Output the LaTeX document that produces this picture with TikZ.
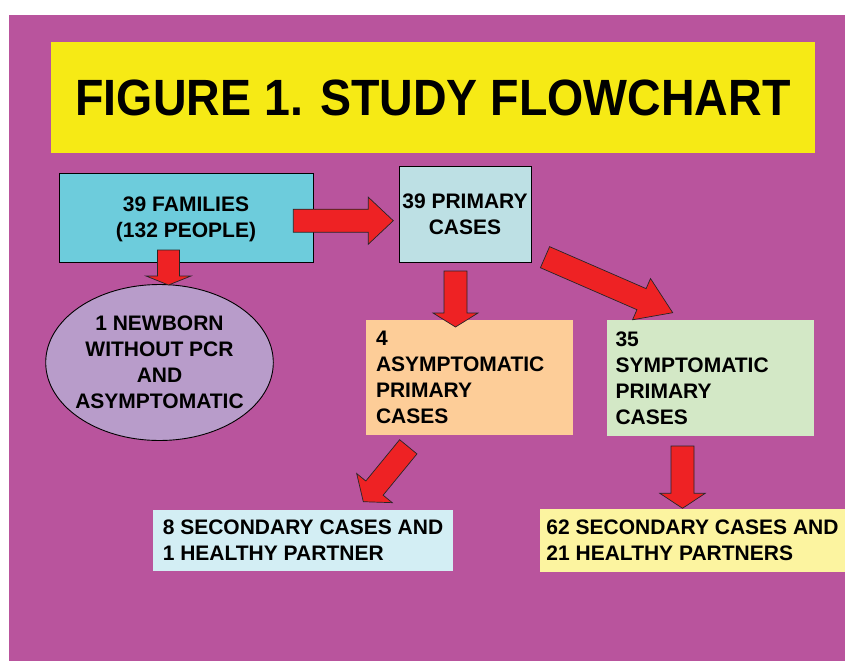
\documentclass[tikz,border=0pt]{standalone}
\usepackage{fontspec}
\setmainfont{Liberation Sans}
\usetikzlibrary{calc,shapes.geometric}
\definecolor{bgmag}{HTML}{B9549D}
\definecolor{titleyellow}{HTML}{F6EA15}
\definecolor{famblue}{HTML}{6DCCDC}
\definecolor{primblue}{HTML}{BDE0E4}
\definecolor{newbornlilac}{HTML}{B89CCA}
\definecolor{asymorange}{HTML}{FDCD98}
\definecolor{symgreen}{HTML}{D3E8C6}
\definecolor{seconeblue}{HTML}{D3EEF4}
\definecolor{sectwoyellow}{HTML}{FCF4A0}
\definecolor{arrowred}{HTML}{EE2224}
\newcommand\blockarrow[5]{%
  \coordinate (bh) at ($(#2)!#3!(#1)$);
  \draw[blockarr] ($(#1)!#4!90:(#2)$) -- ($(bh)!#4!90:(#2)$) -- ($(bh)!#5!90:(#2)$)
    -- (#2) -- ($(bh)!#5!-90:(#2)$) -- ($(bh)!#4!-90:(#2)$) -- ($(#1)!#4!-90:(#2)$) -- cycle;
}
\begin{document}
\begin{tikzpicture}[x=1pt,y=-1pt,
  txt/.style={font={\bfseries\fontsize{21}{26}\selectfont}},
  flat/.style={text depth=0pt},
  boxed/.style={txt, flat, rectangle, inner sep=0pt, draw=black, line width=0.9pt},
  plain/.style={txt, rectangle, inner sep=0pt},
  blockarr/.style={fill=arrowred, draw=black!85, line width=0.7pt, line join=miter}
]
\useasboundingbox (0,0) rectangle (845,661);
\fill[bgmag] (9,15) rectangle (845,661);

\node[fill=titleyellow, inner sep=0pt, text depth=0pt, minimum width=764pt, minimum height=111pt,
  font={\bfseries\fontsize{51}{60}\selectfont}] (title) at (433,97.5)
  {\scalebox{0.912}[1]{FIGURE 1. STUDY FLOWCHART}};

\node[boxed, fill=famblue, minimum width=254pt, minimum height=89pt, align=center] (fam) at (186,217.5)
  {39 FAMILIES\\(132 PEOPLE)};
\node[boxed, fill=primblue, minimum width=132pt, minimum height=96pt, align=center] (prim) at (465,214)
  {39 PRIMARY\\CASES};
\node[txt, flat, ellipse, draw=black, line width=0.9pt, fill=newbornlilac, inner sep=0pt, inner xsep=-15pt,
  minimum width=227.6pt, minimum height=156pt, align=center] (newborn) at (159.5,362.5)
  {1 NEWBORN\\WITHOUT PCR\\AND\\ASYMPTOMATIC};
\node[plain, fill=asymorange, minimum width=207pt, minimum height=115pt, text width=187pt, inner xsep=10pt,
  align=left] (asym) at (469.5,377.5)
  {4\\ASYMPTOMATIC\\PRIMARY\\CASES};
\node[plain, fill=symgreen, minimum width=207pt, minimum height=116pt, text width=190pt, inner xsep=8.5pt,
  align=left] (sym) at (710.5,378)
  {35\\SYMPTOMATIC\\PRIMARY\\CASES};
\node[plain, flat, fill=seconeblue, minimum width=300pt, minimum height=61pt, align=left] (secone) at (303,540.5)
  {8 SECONDARY CASES AND\\1 HEALTHY PARTNER};
\node[plain, flat, fill=sectwoyellow, minimum width=305pt, minimum height=63pt, align=left] (sectwo) at (692.5,540.5)
  {62 SECONDARY CASES AND\\21 HEALTHY PARTNERS};

% arrow end points
\coordinate (famR) at (293.3,220.7);  \coordinate (primL) at (393.3,220.7);
\coordinate (famB) at (168.5,250);    \coordinate (newbornT) at (168.5,285);
\coordinate (primB) at (455.5,271);   \coordinate (asymT) at (455.5,327);
\coordinate (primBR) at (545,257.2);  \coordinate (symT) at (672.7,312.7);
\coordinate (asymB) at (408.3,446.8); \coordinate (seconeT) at (363.3,501.7);
\coordinate (symB) at (682.5,446);    \coordinate (sectwoT) at (682.5,508.3);

\blockarrow{famR}{primL}{25pt}{11.5pt}{23.5pt}
\blockarrow{famB}{newbornT}{9pt}{11pt}{22.5pt}
\blockarrow{primB}{asymT}{14pt}{11.5pt}{22.5pt}
\blockarrow{primBR}{symT}{34pt}{11.5pt}{22.5pt}
\blockarrow{asymB}{seconeT}{17.6pt}{11.2pt}{23pt}
\blockarrow{symB}{sectwoT}{15pt}{11.5pt}{22.7pt}
\end{tikzpicture}
\end{document}
